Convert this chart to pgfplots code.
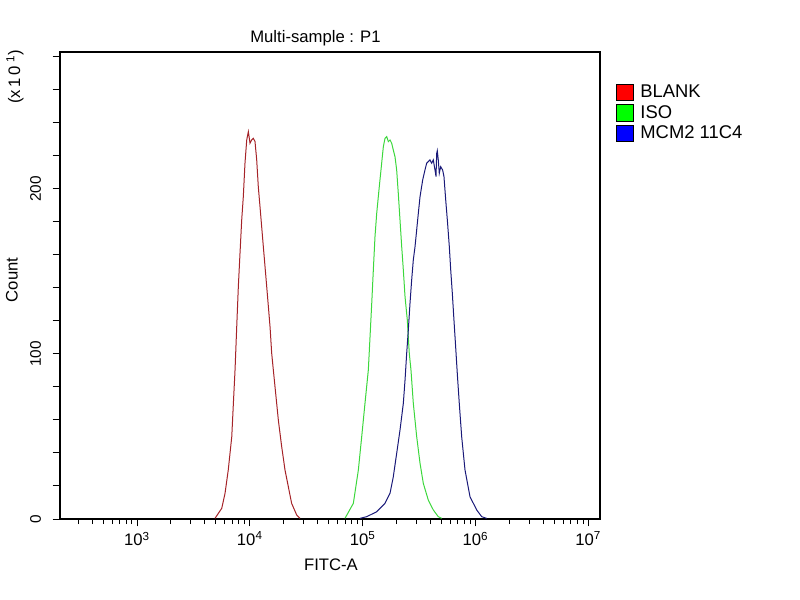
\documentclass[border=0pt]{standalone}
\usepackage{pgfplots}
\pgfplotsset{compat=1.18}
\usepackage{fontspec}
\setmainfont{Liberation Sans}
\definecolor{redline}{RGB}{165,35,40}
\definecolor{greenline}{RGB}{60,215,60}
\definecolor{blueline}{RGB}{25,25,120}
\begin{document}
\begin{tikzpicture}
\path[use as bounding box] (0pt,0pt) rectangle (600pt,450pt);
\begin{axis}[
  at={(45pt,60.75pt)}, anchor=south west,
  scale only axis, width=405pt, height=350.25pt,
  xmode=log, xmin=207.5, xmax=1.2735e7,
  ymin=0, ymax=283,
  axis line style={line width=1pt},
  tick style={line width=0.75pt, black},
  tick align=outside,
  xtick pos=bottom, ytick pos=left,
  major tick length=5.5pt, minor tick length=3.8pt,
  xtick={1e3,1e4,1e5,1e6,1e7},
  xticklabels={10\textsuperscript{3},10\textsuperscript{4},10\textsuperscript{5},10\textsuperscript{6},10\textsuperscript{7}},
  minor xtick={300,400,500,600,700,800,900,2000,3000,4000,5000,6000,7000,8000,9000,20000,30000,40000,50000,60000,70000,80000,90000,2e5,3e5,4e5,5e5,6e5,7e5,8e5,9e5,2e6,3e6,4e6,5e6,6e6,7e6,8e6,9e6},
  ytick={0,20,40,60,80,100,120,140,160,180,200,220,240,260,280},
  yticklabels={0,,,,,100,,,,,200,,,,},
  xticklabel style={font=\fontsize{12.5}{14}\selectfont, inner sep=4pt},
  yticklabel style={font=\fontsize{11.5}{13}\selectfont, rotate=90, anchor=south, inner sep=8.5pt},
  legend style={at={(1.0296,0.9358)}, anchor=north west, draw=none, fill=none,
    font=\fontsize{13.8}{15}\selectfont, row sep=0.3pt, inner sep=0pt,
    cells={anchor=west}, nodes={inner xsep=5pt}},
  legend cell align=left,
  legend image code/.code={\draw[#1] (0pt,-6.2pt) rectangle (12.5pt,6.2pt);},
]
\addlegendimage{fill=red, draw=black, line width=0.6pt}
\addlegendentry{BLANK}
\addlegendimage{fill=green, draw=black, line width=0.6pt}
\addlegendentry{ISO}
\addlegendimage{fill=blue, draw=black, line width=0.6pt}
\addlegendentry{MCM2 11C4}

\addplot[redline, line width=0.75pt, forget plot] coordinates {
(4912,0.4) (5640,6.5) (6030,15.6) (6440,29.7) (6918,49.9) (7150,70.1)
(7396,90.3) (7656,116.5) (7911,140.8) (8185,161) (8473,181.2) (8756,195.3)
(9061,215.6) (9388,229.7) (9706,234.7) (10040,227.7) (10390,229.7)
(10740,230.7) (11120,228.7) (11510,217.6) (11890,201.4) (12310,189.3)
(13180,165) (14120,140.8) (15110,116.5) (15630,100.4) (16720,80.2)
(17900,60) (19170,43.8) (20510,29.7) (21950,19.6) (23480,9.5)
(26050,2.4) (27860,0.4)
};
\addplot[greenline, line width=0.75pt, forget plot] coordinates {
(69800,0.4) (82800,9.5) (91700,29.7) (98200,49.9) (105000,70.1)
(112400,90.3) (116400,110.5) (120500,130.7) (124500,150.9) (128800,171.1)
(133400,185.3) (140600,201.4) (147600,215.6) (152700,225.6) (158000,230.7)
(163600,231.7) (169100,228.7) (175100,229.7) (181100,227.7) (187200,223.6)
(193700,219.6) (200500,211.5) (207200,197.4) (214600,181.2) (222200,165)
(229700,150.9) (237800,134.7) (249100,120.6) (259400,100.4) (268500,90.3)
(281600,70.1) (301700,49.9) (323000,33.8) (345400,21.6) (382300,11.5)
(423300,5.5) (468800,1.4) (502300,0.4)
};
\addplot[blueline, line width=0.75pt, forget plot] coordinates {
(94900,0.4) (108700,1.4) (133400,4.4) (158000,9.5) (175100,15.6)
(187200,25.6) (200500,39.8) (214600,53.9) (229700,70.1) (237800,84.2)
(246000,100.4) (254300,114.5) (263200,130.7) (272300,144.8) (281600,157)
(291600,165) (301700,175.2) (312000,185.3) (323000,195.3) (341100,205.5)
(357400,211.5) (369800,215.6) (382300,216.6) (395500,217.6) (409800,215.6)
(423300,217.6) (438500,211.5) (447700,207.5) (453900,221.6) (459400,223.2)
(468800,217.6) (478600,209.5) (492400,213.5) (512400,211.5) (526600,207.5)
(545700,193.3) (564100,181.2) (587500,165) (604400,150.9) (624500,136.8)
(645700,120.6) (668400,104.4) (691100,88.3) (719800,70.1) (756000,49.9)
(809100,29.7) (896100,13.5) (1026900,5.5) (1137800,1.4) (1259000,0.4)
};
\end{axis}
\node[font=\fontsize{12.5}{14}\selectfont] at (236.6pt,421.7pt) {Multi-sample : P1};
\node[font=\fontsize{12.5}{14}\selectfont] at (248.25pt,26.25pt) {FITC-A};
\node[font=\fontsize{12.5}{14}\selectfont, rotate=90] at (9pt,240pt) {Count};
\node[font=\fontsize{12.5}{14}\selectfont, rotate=90] at (11.25pt,392.25pt) {(x\,1\,0\,\textsuperscript{1})};
\end{tikzpicture}
\end{document}
